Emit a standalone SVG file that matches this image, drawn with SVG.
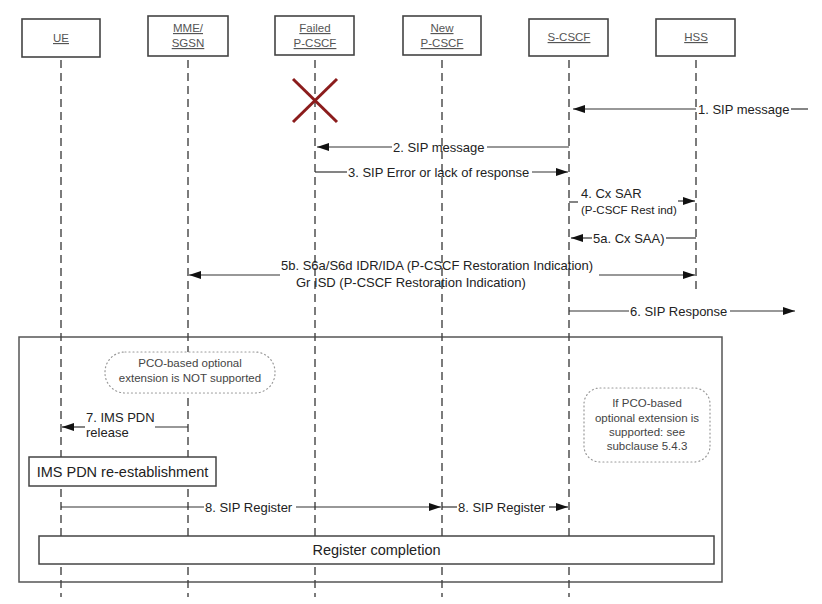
<svg xmlns="http://www.w3.org/2000/svg" width="822" height="604" viewBox="0 0 822 604">
<defs>
<style>
.hdr{fill:#fff;stroke:#444;stroke-width:1.6}
.ht{font-family:"Liberation Sans",Arial,sans-serif;font-size:11.5px;fill:#555;text-anchor:middle;text-decoration:underline}
.life{stroke:#444;stroke-width:1.4;stroke-dasharray:8 5;fill:none}
.msg{stroke:#333;stroke-width:1.2;fill:none}
.arr{stroke:#333;stroke-width:1.2;fill:none;marker-end:url(#ah)}
.mt{font-family:"Liberation Sans",Arial,sans-serif;font-size:13px;fill:#222}
.st{font-family:"Liberation Sans",Arial,sans-serif;font-size:11.5px;fill:#222}
.nt{font-family:"Liberation Sans",Arial,sans-serif;font-size:11.5px;fill:#444;text-anchor:middle}
.note{fill:#fff;stroke:#999;stroke-width:1.2;stroke-dasharray:1 3;stroke-linecap:round}
.box{fill:#fff;stroke:#444;stroke-width:1.5}
.bt{font-family:"Liberation Sans",Arial,sans-serif;font-size:14.5px;fill:#222;text-anchor:middle}
</style>
<marker id="ah" markerWidth="12" markerHeight="8" refX="12" refY="4" orient="auto" markerUnits="userSpaceOnUse">
<path d="M0,0 L12,4 L0,8 Z" fill="#111"/>
</marker>
</defs>
<rect width="822" height="604" fill="#fff"/>

<g id="frame">
<rect x="19" y="337" width="703" height="245" fill="none" stroke="#555" stroke-width="1.5"/>
</g>

<g id="lifelines">
<line class="life" x1="61" y1="60" x2="61" y2="597"/>
<line class="life" x1="188" y1="60" x2="188" y2="597"/>
<line class="life" x1="315" y1="60" x2="315" y2="597"/>
<line class="life" x1="442" y1="60" x2="442" y2="597"/>
<line class="life" x1="569" y1="60" x2="569" y2="597"/>
<line class="life" x1="696" y1="60" x2="696" y2="293"/>
</g>

<g id="node-ue"><rect class="hdr" x="22" y="19" width="78" height="38"/><text class="ht" x="61" y="42">UE</text></g>
<g id="node-mme"><rect class="hdr" x="148" y="16" width="80" height="40"/><text class="ht" x="188" y="32">MME/</text><text class="ht" x="188" y="47">SGSN</text></g>
<g id="node-failed"><rect class="hdr" x="275" y="16" width="79" height="39"/><text class="ht" x="315" y="32">Failed</text><text class="ht" x="315" y="47">P-CSCF</text></g>
<g id="node-new"><rect class="hdr" x="403" y="16" width="78" height="39"/><text class="ht" x="442" y="32">New</text><text class="ht" x="442" y="47">P-CSCF</text></g>
<g id="node-scscf"><rect class="hdr" x="529" y="19" width="79" height="37"/><text class="ht" x="569" y="41">S-CSCF</text></g>
<g id="node-hss"><rect class="hdr" x="656" y="19" width="79" height="37"/><text class="ht" x="696" y="41">HSS</text></g>

<g id="failure-x">
<line x1="293" y1="79" x2="337" y2="122" stroke="#8B1C1C" stroke-width="3"/>
<line x1="337" y1="79" x2="293" y2="122" stroke="#8B1C1C" stroke-width="3"/>
</g>

<g id="note-1">
<rect class="note" x="105" y="352" width="170" height="41" rx="20" ry="20"/>
<text class="nt" x="190" y="367">PCO-based optional</text>
<text class="nt" x="190" y="382">extension is NOT supported</text>
</g>
<g id="note-2">
<rect class="note" x="584" y="388" width="126" height="74" rx="16" ry="16"/>
<text class="nt" x="647" y="407">If PCO-based</text>
<text class="nt" x="647" y="422">optional extension is</text>
<text class="nt" x="647" y="436">supported: see</text>
<text class="nt" x="647" y="450">subclause 5.4.3</text>
</g>

<g id="box-ims">
<rect class="box" x="29" y="457" width="187" height="29"/>
<text class="bt" x="122.5" y="477">IMS PDN re-establishment</text>
</g>
<g id="box-register">
<rect class="box" x="39" y="536" width="675" height="28"/>
<text class="bt" x="376.5" y="555">Register completion</text>
</g>

<g id="connectors">
<line class="arr" x1="696" y1="109" x2="573" y2="109"/>
<text class="mt" x="698" y="114">1. SIP message</text>
<line class="msg" x1="791" y1="109" x2="808" y2="109"/>

<line class="msg" x1="569" y1="147" x2="487" y2="147"/>
<text class="mt" x="393" y="152">2. SIP message</text>
<line class="arr" x1="392" y1="147" x2="317" y2="147"/>

<line class="msg" x1="315" y1="172" x2="347" y2="172"/>
<text class="mt" x="348" y="177">3. SIP Error or lack of response</text>
<line class="arr" x1="532" y1="172" x2="568" y2="172"/>

<line class="msg" x1="569" y1="202" x2="578" y2="202"/>
<text class="mt" x="581" y="198">4. Cx SAR</text>
<text class="st" x="581" y="214">(P-CSCF Rest ind)</text>
<line class="arr" x1="678" y1="201" x2="695" y2="201"/>

<line class="arr" x1="592" y1="238" x2="571" y2="238"/>
<text class="mt" x="593" y="243">5a. Cx SAA)</text>
<line class="msg" x1="666" y1="238" x2="696" y2="238"/>

<line class="arr" x1="280" y1="275" x2="189" y2="275"/>
<text class="mt" x="281" y="270">5b. S6a/S6d IDR/IDA (P-CSCF Restoration Indication)</text>
<text class="mt" x="296" y="287">Gr ISD (P-CSCF Restoration Indication)</text>
<line class="arr" x1="599" y1="275" x2="695" y2="275"/>

<line class="msg" x1="569" y1="311" x2="629" y2="311"/>
<text class="mt" x="630" y="316">6. SIP Response</text>
<line class="arr" x1="730" y1="311" x2="795" y2="311"/>

<line class="msg" x1="188" y1="427" x2="155" y2="427"/>
<text class="mt" x="86" y="422">7. IMS PDN</text>
<text class="mt" x="86" y="437">release</text>
<line class="arr" x1="85" y1="427" x2="62" y2="427"/>

<line class="msg" x1="61" y1="507" x2="204" y2="507"/>
<text class="mt" x="205" y="512">8. SIP Register</text>
<line class="arr" x1="296" y1="507" x2="441" y2="507"/>
<line class="msg" x1="442" y1="507" x2="457" y2="507"/>
<text class="mt" x="458" y="512">8. SIP Register</text>
<line class="arr" x1="549" y1="507" x2="568" y2="507"/>
</g>
</svg>
